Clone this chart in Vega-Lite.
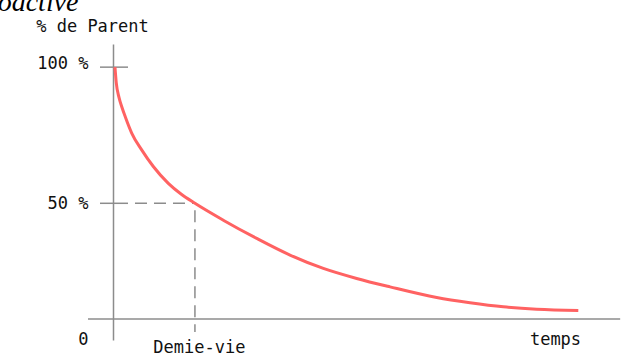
{
  "$schema": "https://vega.github.io/schema/vega-lite/v6.json",
  "width": 508,
  "height": 296,
  "autosize": {"type": "none"},
  "padding": {"left": 113, "top": 44, "right": 0, "bottom": 16},
  "background": "white",
  "title": {"text": "radioactive", "anchor": "start", "frame": "group", "font": "Liberation Serif", "fontStyle": "italic", "fontWeight": "normal", "fontSize": 28, "color": "#000", "baseline": "alphabetic", "offset": 0, "dx": -162, "dy": 22},
  "config": {
    "view": {"stroke": null},
    "axis": {"labelFont": "DejaVu Sans Mono", "labelFontSize": 17, "labelColor": "#111", "titleFont": "DejaVu Sans Mono", "titleFontSize": 17, "titleFontWeight": "normal", "titleColor": "#111", "grid": false, "ticks": false}
  },
  "datasets": {
    "curve": [
      {"t": 0.024, "v": 100.0},
      {"t": 0.040, "v": 94.2},
      {"t": 0.073, "v": 88.9},
      {"t": 0.110, "v": 85.2},
      {"t": 0.153, "v": 81.5},
      {"t": 0.228, "v": 75.8},
      {"t": 0.350, "v": 69.6},
      {"t": 0.492, "v": 63.5},
      {"t": 0.675, "v": 57.3},
      {"t": 0.830, "v": 53.4},
      {"t": 1.0, "v": 50.0},
      {"t": 1.346, "v": 43.8},
      {"t": 1.754, "v": 37.1},
      {"t": 2.160, "v": 31.0},
      {"t": 2.567, "v": 26.1},
      {"t": 2.974, "v": 22.4},
      {"t": 3.381, "v": 19.3},
      {"t": 3.951, "v": 15.4},
      {"t": 4.357, "v": 13.5},
      {"t": 4.764, "v": 12.0},
      {"t": 5.171, "v": 11.1},
      {"t": 5.679, "v": 10.6}
    ],
    "solid": [
      {"t": -0.305, "t2": 6.19, "v": 7.5, "v2": 7.5},
      {"t": -0.159, "t2": 0.183, "v": 100, "v2": 100},
      {"t": -0.159, "t2": 0.183, "v": 50, "v2": 50}
    ],
    "dashed": [
      {"t": 0.183, "t2": 1, "v": 50, "v2": 50},
      {"t": 1, "t2": 1, "v": 50, "v2": 2.7}
    ]
  },
  "encoding": {
    "x": {
      "field": "t", "type": "quantitative",
      "scale": {"domain": [0, 6.2], "nice": false, "zero": false},
      "axis": {
        "values": [1], "labelExpr": "'Demie-vie'", "domain": false,
        "labelPadding": 12, "labelBaseline": "alphabetic", "labelOffset": 4, "labelFlush": false,
        "title": "temps", "titleX": 442, "titleY": 4, "titleAlign": "center", "titleBaseline": "alphabetic"
      }
    },
    "y": {
      "field": "v", "type": "quantitative",
      "scale": {"domain": [-0.2, 108.5], "nice": false, "zero": false},
      "axis": {
        "values": [0, 50, 100],
        "labelExpr": "datum.value == 0 ? '0' : datum.value + ' %'",
        "domain": true, "domainColor": "#8c8c8c", "domainWidth": 1.5,
        "labelPadding": 25, "labelBaseline": "alphabetic", "labelAlign": "right",
        "labelOffset": {"condition": {"test": "datum.value == 100", "value": 1}, "value": 5},
        "title": "% de Parent", "titleAngle": 0, "titleX": -21, "titleY": -13, "titleAlign": "center", "titleBaseline": "alphabetic"
      }
    }
  },
  "layer": [
    {
      "data": {"name": "solid"},
      "mark": {"type": "rule", "color": "#8c8c8c", "strokeWidth": 1.5},
      "encoding": {"x2": {"field": "t2"}, "y2": {"field": "v2"}}
    },
    {
      "data": {"name": "dashed"},
      "mark": {"type": "rule", "color": "#8c8c8c", "strokeWidth": 1.5, "strokeDash": [12, 7], "strokeDashOffset": 12},
      "encoding": {"x2": {"field": "t2"}, "y2": {"field": "v2"}}
    },
    {
      "data": {"name": "curve"},
      "mark": {"type": "line", "color": "#ff6262", "strokeWidth": 3, "interpolate": "monotone"},
      "encoding": {}
    }
  ]
}
